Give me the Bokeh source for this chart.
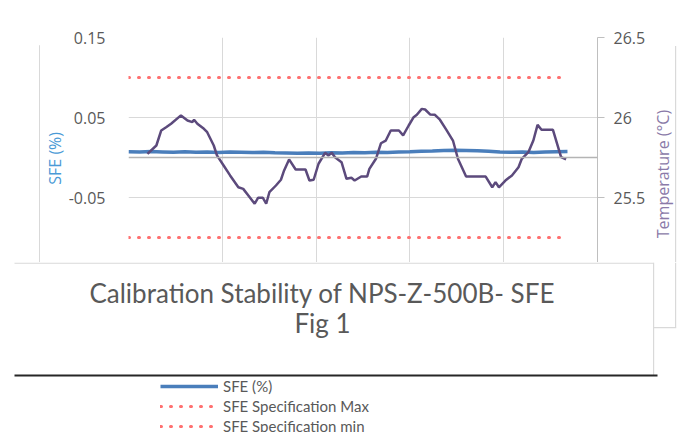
import math
from bokeh.plotting import figure
from bokeh.layouts import row, column
from bokeh.models import (Range1d, LinearAxis, FixedTicker, Span, Label, BoxAnnotation,
                          Legend, LegendItem, CustomJSTickFormatter)
from bokeh.embed import file_html
from bokeh.resources import INLINE

# ---------------- data ----------------
time_sfe = [0, 12, 24, 36, 48, 60, 72, 84, 96, 108, 120, 132, 144, 156, 168, 180, 192, 204,
            216, 228, 240, 252, 264, 276, 288, 300, 312, 324, 336, 348, 360, 372, 384, 396,
            408, 420, 432, 444, 456, 468]
sfe = [0.0072, 0.0068, 0.0074, 0.0070, 0.0066, 0.0071, 0.0067, 0.0070, 0.0064, 0.0068,
       0.0065, 0.0062, 0.0066, 0.0058, 0.0055, 0.0052, 0.0057, 0.0054, 0.0059, 0.0056,
       0.0061, 0.0060, 0.0065, 0.0063, 0.0068, 0.0072, 0.0078, 0.0082, 0.0088, 0.0092,
       0.0089, 0.0085, 0.0078, 0.0070, 0.0066, 0.0069, 0.0064, 0.0070, 0.0073, 0.0076]

time_temp = [20.2, 29.7, 34.9, 40.1, 45.4, 55.9, 62.9, 68.1, 69.9, 73.4, 80.4, 83.9, 90.9,
             94.3, 101.4, 108.3, 117.1, 122.3, 129.2, 134.5, 138.1, 143.3, 146.8, 150.2,
             157.2, 162.5, 165.9, 171.2, 178.2, 188.7, 192.9, 197.4, 202.6, 209.6, 213.1,
             216.7, 220.1, 227.1, 232.4, 237.6, 241.1, 248.1, 254.4, 256.8, 263.8, 269.1,
             274.3, 279.6, 288.3, 292.8, 298.7, 304.0, 307.4, 312.7, 316.2, 321.5, 326.7,
             332.0, 338.9, 345.9, 351.2, 359.9, 380.8, 387.8, 391.3, 394.9, 401.8, 408.8,
             415.8, 419.3, 426.3, 431.6, 436.1, 440.3, 452.5, 461.2, 466.5]
temperature = [25.773, 25.825, 25.919, 25.939, 25.961, 26.013, 25.981, 25.971, 25.986, 25.961,
               25.929, 25.908, 25.825, 25.763, 25.700, 25.638, 25.564, 25.554, 25.502, 25.461,
               25.498, 25.498, 25.461, 25.533, 25.575, 25.611, 25.669, 25.738, 25.675, 25.675,
               25.606, 25.611, 25.711, 25.779, 25.763, 25.779, 25.752, 25.721, 25.617, 25.623,
               25.606, 25.631, 25.631, 25.679, 25.742, 25.839, 25.856, 25.919, 25.919, 25.888,
               25.950, 26.002, 26.017, 26.054, 26.050, 26.019, 26.017, 25.986, 25.923, 25.856,
               25.742, 25.631, 25.631, 25.564, 25.596, 25.564, 25.606, 25.638, 25.689, 25.742,
               25.783, 25.856, 25.954, 25.923, 25.923, 25.752, 25.738]

spec_x = [0, 468]
spec_max = [0.1, 0.1]
spec_min = [-0.1, -0.1]

sfe_ticks = [-0.15, -0.05, 0.05, 0.15]
temp_ticks = [25.5, 26.0, 26.5]
x_grid_ticks = [0, 100, 200, 300, 400, 500]

title_line1 = "Calibration Stability of NPS-Z-500B- SFE"
title_line2 = "Fig 1"
left_label = "SFE (%)"
right_label = "Temperature (°C)"
legend_labels = ["SFE (%)", "SFE Specification Max", "SFE Specification min"]

GRID = "#d9d9d9"
BORDER = "#d9d9d9"
TEXT = "#595959"
C_SFE = "#4a7ebb"
C_SPEC = "#ff7070"
C_TEMP = "#5c4a7c"
NB = "\u00a0"
SPEC_DASH = "1 9"


def strip(width, height):
    f = figure(width=width, height=height, output_backend="svg", toolbar_location=None,
               x_axis_location=None, y_axis_location=None, min_border=0,
               x_range=Range1d(0, width), y_range=Range1d(height, 0))
    f.grid.visible = False
    f.outline_line_color = None
    return f


def rule(f, l, r, t, b, color):
    f.add_layout(BoxAnnotation(left=l, right=r, top=t, bottom=b, fill_color=color,
                               fill_alpha=1, line_color=None))


# ---------------- chart ----------------
p = figure(width=610, height=262, output_backend="svg", toolbar_location=None,
           x_range=Range1d(0, 500), y_range=Range1d(-0.13125, 0.15),
           min_border_left=80, min_border_right=53, min_border_top=37, min_border_bottom=0)
p.extra_y_ranges = {"temp": Range1d(25.09375, 26.5)}
p.outline_line_color = None

fmt = CustomJSTickFormatter(code="return String(Math.round(tick*1000)/1000);")

p.xaxis.visible = False
p.xgrid.ticker = FixedTicker(ticks=x_grid_ticks)
p.xgrid.grid_line_color = GRID

p.yaxis.ticker = FixedTicker(ticks=sfe_ticks)
p.ygrid.ticker = FixedTicker(ticks=sfe_ticks)
p.ygrid.grid_line_color = GRID
p.yaxis.formatter = fmt
p.yaxis.axis_line_color = None
p.yaxis.major_tick_line_color = None
p.yaxis.minor_tick_line_color = None
p.yaxis.major_label_standoff = 17
p.yaxis.major_label_text_font = "Open Sans"
p.yaxis.major_label_text_font_size = "16px"
p.yaxis.major_label_text_color = TEXT
p.yaxis.axis_label = left_label + NB * 4
p.yaxis.axis_label_standoff = 0
p.yaxis.axis_label_text_font = "Open Sans"
p.yaxis.axis_label_text_font_style = "normal"
p.yaxis.axis_label_text_font_size = "16px"
p.yaxis.axis_label_text_color = "#4a9ad6"

raxis = LinearAxis(y_range_name="temp", ticker=FixedTicker(ticks=temp_ticks), formatter=fmt)
raxis.axis_line_color = "#bfbfbf"
raxis.major_tick_line_color = "#bfbfbf"
raxis.major_tick_out = 7
raxis.major_tick_in = 0
raxis.minor_tick_line_color = None
raxis.major_label_standoff = 9
raxis.major_label_text_font = "Open Sans"
raxis.major_label_text_font_size = "16px"
raxis.major_label_text_color = TEXT
p.add_layout(raxis, "right")

p.add_layout(Span(location=0, dimension="width", line_color="#b4b4b4", line_width=1.5))

r_sfe = p.line(time_sfe, sfe, line_color=C_SFE, line_width=3.5)
r_max = p.line(spec_x, spec_max, line_color=C_SPEC, line_width=3, line_dash=SPEC_DASH,
               line_cap="round")
r_min = p.line(spec_x, spec_min, line_color=C_SPEC, line_width=3, line_dash=SPEC_DASH,
               line_cap="round")
r_temp = p.line(time_temp, temperature, y_range_name="temp", line_color=C_TEMP, line_width=2.5)

# ---------------- side strips ----------------
left_strip = strip(40, 262)
rule(left_strip, 38.5, 39.7, 9, 262, BORDER)

right_strip = strip(30, 262)   # page x 650..680
rule(right_strip, 24.5, 25.7, 10, 262, BORDER)
right_strip.add_layout(Label(x=12, y=159, text=right_label, angle=math.pi / 2,
                             text_align="center", text_baseline="middle",
                             text_font="Open Sans", text_font_size="16px",
                             text_color="#8a7aa8"))

# ---------------- bottom block: title + legend ----------------
b = strip(680, 170)          # page y 262..432 -> local y 0..170
rule(b, 14, 653, 0, 1.2, BORDER)
rule(b, 652.5, 653.7, 0, 113, BORDER)
rule(b, 674.5, 675.7, 0, 65, BORDER)
rule(b, 653, 675.7, 64.5, 65.7, BORDER)
rule(b, 14, 657, 112, 114, "#262626")

b.add_layout(Label(x=322, y=30, text=title_line1, text_align="center", text_baseline="middle",
                   text_font="Lato", text_font_size="26px", text_color=TEXT))
b.add_layout(Label(x=322, y=60, text=title_line2, text_align="center", text_baseline="middle",
                   text_font="Lato", text_font_size="26px", text_color=TEXT))

off_x = [-100, -90]
off_y = [-100, -100]
d_sfe = b.line(off_x, off_y, line_color=C_SFE, line_width=3.5)
d_max = b.line(off_x, off_y, line_color=C_SPEC, line_width=3, line_dash=SPEC_DASH,
               line_cap="round")
d_min = b.line(off_x, off_y, line_color=C_SPEC, line_width=3, line_dash=SPEC_DASH,
               line_cap="round")
legend = Legend(items=[LegendItem(label=legend_labels[0], renderers=[d_sfe]),
                       LegendItem(label=legend_labels[1], renderers=[d_max]),
                       LegendItem(label=legend_labels[2], renderers=[d_min])],
                location=(160, -4), orientation="vertical", glyph_width=58, glyph_height=20,
                label_height=20, spacing=0, padding=0, margin=0, label_standoff=5,
                border_line_color=None, background_fill_alpha=0,
                label_text_font="Lato", label_text_font_size="15px",
                label_text_color=TEXT)
b.add_layout(legend)

layout = column(row(left_strip, p, right_strip, spacing=0), b, spacing=0)

open("out.html", "w").write(file_html(layout, INLINE))
